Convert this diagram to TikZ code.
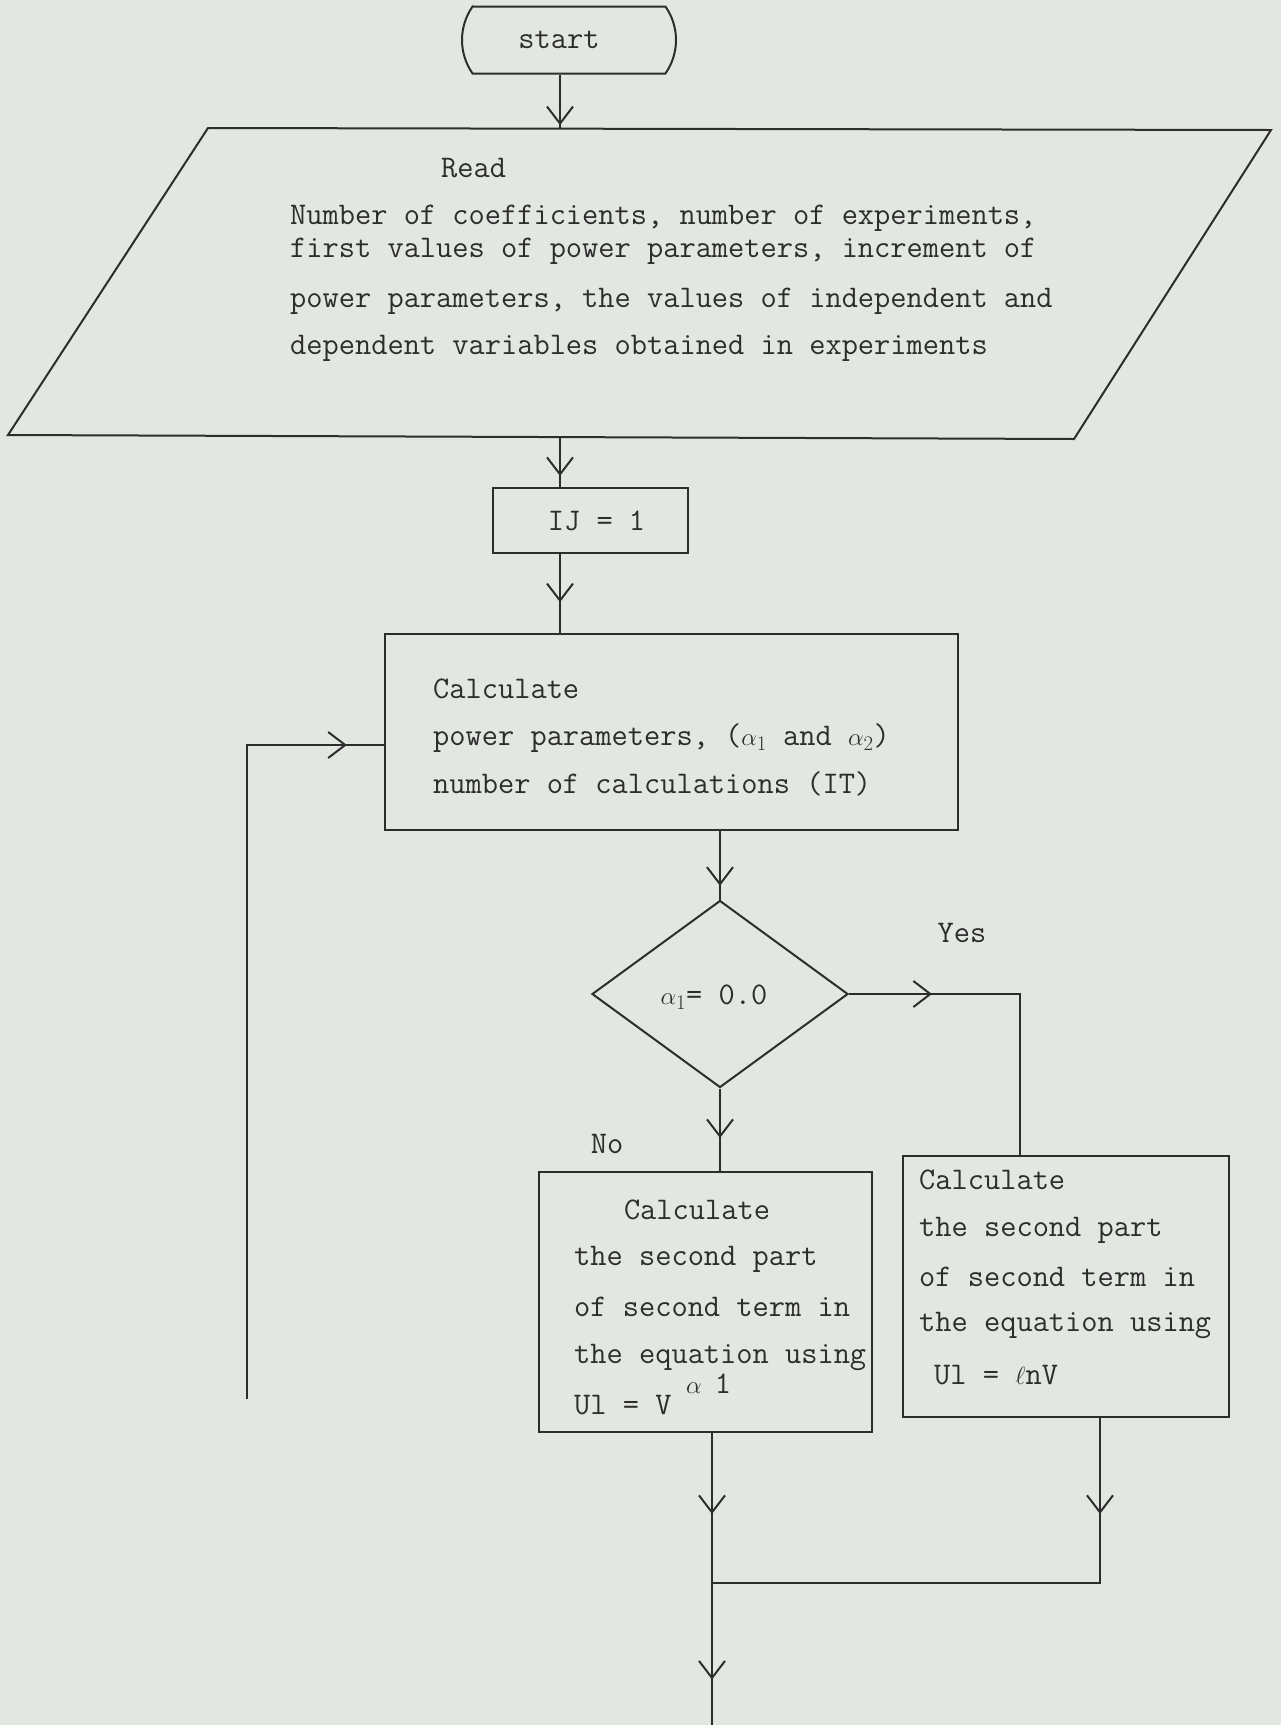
\documentclass[tikz,border=0pt]{standalone}
\usetikzlibrary{arrows.meta,shapes.geometric,shapes.misc,decorations.markings}
\definecolor{paper}{RGB}{227,231,225}
\definecolor{ink}{RGB}{45,45,45}
\newcommand\tyfont{\ttfamily\fontsize{31.5}{37}\selectfont}
\tikzset{
  ln/.style={draw=ink, line width=2pt},
  box/.style={rectangle, draw=ink, line width=2pt, inner sep=0pt, text=ink, font=\tyfont},
  txt/.style={text=ink, inner sep=0pt, anchor=west, font=\tyfont},
  lbl/.style={text=ink, inner sep=0pt, anchor=center, font=\tyfont},
  marr/.style={postaction={decorate}, decoration={markings,
     mark=at position #1 with {\arrow[ink, line width=2pt]{Straight Barb[length=17pt,width=26pt]}}}},
}
\begin{document}
\begin{tikzpicture}[x=1pt,y=-1pt]
\fill[paper] (0,0) rectangle (1281,1725);
\useasboundingbox (0,0) rectangle (1281,1725);

% start terminator
\node[rounded rectangle, rounded rectangle arc length=70, draw=ink, line width=2pt,
      minimum width=214pt, minimum height=67pt, inner sep=0pt, text=ink, font=\tyfont]
      (start) at (569,40) {\hspace*{-20pt}start};

% read parallelogram
\draw[ln] (208,128) -- (1271,130) -- (1074,439) -- (8,435) -- cycle;
\coordinate (readtop) at (560,129);
\coordinate (readbot) at (560,437);
\node[txt] (rd0) at (441,168) {Read};
\node[txt] (rd1) at (290,218) {Number of coefficients, number of experiments,};
\node[txt] (rd2) at (290,251) {first values of power parameters, increment of};
\node[txt] (rd3) at (290,301) {power parameters, the values of independent and};
\node[txt] (rd4) at (290,348) {dependent variables obtained in experiments};

% IJ box
\node[box, minimum width=195pt, minimum height=65pt] (ij) at (590.5,520.5) {\hspace*{12pt}IJ = 1};

% calculate box
\node[box, minimum width=573pt, minimum height=196pt] (calc) at (671.5,732) {};
\node[txt] (c1) at (433,689) {Calculate};
\node[txt] (c2) at (433,738) {power parameters, ($\alpha_1$ and $\alpha_2$)};
\node[txt] (c3) at (433,784) {number of calculations (IT)};

% decision
\node[diamond, draw=ink, line width=2pt, minimum width=256pt, minimum height=187pt,
      inner sep=0pt] (dia) at (720,994) {};
\node[lbl] (diat) at (714,997) {$\alpha_1$= 0.0};
\node[lbl] (yes) at (962,933) {Yes};
\node[lbl] (no) at (607,1144) {No};

% left box
\node[box, minimum width=333pt, minimum height=260pt] (lbox) at (705.5,1302) {};
\node[lbl] (l1) at (697,1210) {Calculate};
\node[txt] (l2) at (574,1259) {the second part};
\node[txt] (l3) at (574,1307) {of second term in};
\node[txt] (l4) at (574,1357) {the equation using};
\node[txt] (l5) at (574,1405) {Ul = V};
\node[txt] (l5s) at (686,1384) {$\alpha$\hspace{13pt}1};

% right box
\node[box, minimum width=326pt, minimum height=261pt] (rbox) at (1066,1286.5) {};
\node[txt] (r1) at (919,1180) {Calculate};
\node[txt] (r2) at (919,1230) {the second part};
\node[txt] (r3) at (919,1277) {of second term in};
\node[txt] (r4) at (919,1325) {the equation using};
\node[txt] (r5) at (934,1375) {Ul = $\ell$nV};

% coordinates for connectors
\coordinate (join) at (712,1583);
\coordinate (bottomend) at (712,1725);
\coordinate (loopend) at (247,1399);
\coordinate (rdown) at (1100,1417);

% connectors
\draw[ln, marr=0.93] (start.south -| readtop) -- (readtop);
\draw[ln, marr=0.78] (readbot) -- (ij.north -| readbot);
\draw[ln, marr=0.61] (ij.south -| readbot) -- (calc.north -| readbot);
\draw[ln, marr=0.8] (calc.south -| dia.north) -- (dia.north);
\draw[ln, marr=0.25] (dia.east) -| ([xshift=-46pt]rbox.north);
\draw[ln, marr=0.6] (dia.south) -- (lbox.north -| dia.south);
\draw[ln, marr=0.54] (lbox.south -| join) -- (join);
\draw[ln, marr=0.175] (rdown) |- (join);
\draw[ln, marr=0.68] (join) -- (bottomend);
\draw[ln, marr=0.953] (loopend) |- ([yshift=-13pt]calc.west);
\end{tikzpicture}
\end{document}
